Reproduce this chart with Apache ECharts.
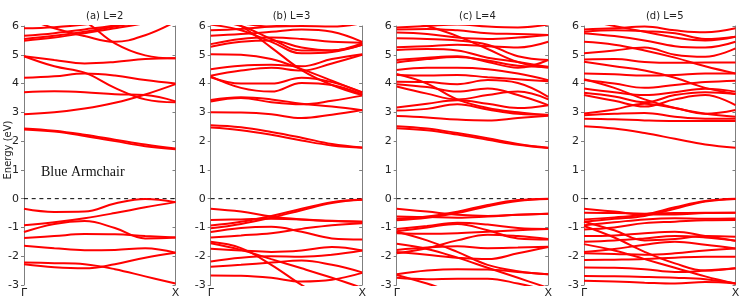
<!DOCTYPE html>
<html><head><meta charset="utf-8">
<script src="https://cdn.jsdelivr.net/npm/echarts@6/dist/echarts.min.js"></script>
<style>html,body{margin:0;padding:0;background:#fff}#c{width:747px;height:299px}</style>
</head><body><div id="c"></div>
<script>
// k-path samples (Γ -> X, normalized)
const xs = [0, 0.2, 0.4, 0.6, 0.8, 1];
const kLabels = ['Γ', 'X'];
const titles = ['(a) L=2', '(b) L=3', '(c) L=4', '(d) L=5'];
const yMin = -3, yMax = 6;
const fermiLevel = 0;

// Panel (a) L=2 bands (eV)
const bandsA = [
  [-0.35, -0.46, -0.45, -0.17, -0.01, -0.12],
  [-0.92, -0.82, -0.68, -0.5, -0.3, -0.12],
  [-1.16, -0.88, -0.78, -1.02, -1.38, -1.35],
  [-1.37, -1.3, -1.23, -1.24, -1.3, -1.35],
  [-1.64, -1.72, -1.79, -1.78, -1.72, -1.88],
  [-2.22, -2.24, -2.28, -2.45, -2.7, -2.95],
  [-2.28, -2.38, -2.42, -2.28, -2.05, -1.88],
  [2.44, 2.36, 2.22, 2.05, 1.88, 1.74],
  [2.4, 2.33, 2.18, 2.0, 1.82, 1.72],
  [2.93, 3.0, 3.13, 3.33, 3.62, 3.98],
  [3.7, 3.73, 3.7, 3.63, 3.6, 3.38],
  [4.2, 4.25, 4.35, 4.28, 4.12, 4.0],
  [4.95, 4.6, 4.38, 3.85, 3.45, 3.35],
  [4.95, 4.82, 4.7, 4.75, 4.85, 4.88],
  [5.92, 5.96, 6.05, 6.2, 6.3, 6.4],
  [5.66, 5.75, 5.88, 6.02, 6.2, 6.4],
  [5.55, 5.66, 5.8, 5.98, 6.15, 6.3],
  [5.49, 5.6, 5.75, 5.92, 6.1, 6.3],
  [6.3, 5.92, 5.65, 5.45, 5.68, 6.15],
  [6.8, 6.5, 6.15, 5.4, 4.98, 4.88]
];

// Panel (b) L=3 bands (eV)
const bandsB = [
  [-0.35, -0.45, -0.62, -0.72, -0.78, -0.8],
  [-0.74, -0.72, -0.7, -0.72, -0.77, -0.8],
  [-0.93, -0.8, -0.6, -0.35, -0.12, -0.03],
  [-1.03, -0.88, -0.66, -0.4, -0.15, -0.04],
  [-1.16, -1.02, -0.98, -1.15, -1.38, -1.42],
  [-1.35, -1.28, -1.2, -1.05, -0.92, -0.85],
  [-1.5, -1.72, -2.3, -3.0, -3.6, -4.0],
  [-1.55, -1.78, -2.1, -2.42, -2.75, -3.1],
  [-1.74, -1.8, -1.85, -1.8, -1.68, -1.8],
  [-2.18, -2.05, -2.0, -2.02, -1.95, -1.8],
  [-2.37, -2.3, -2.22, -2.15, -2.3, -2.56],
  [-2.67, -2.68, -2.75, -2.88, -2.82, -2.58],
  [2.55, 2.48, 2.32, 2.12, 1.9, 1.78],
  [2.47, 2.38, 2.22, 2.02, 1.85, 1.77],
  [3.0, 2.99, 2.93, 2.8, 2.92, 3.08],
  [3.43, 3.52, 3.45, 3.3, 3.2, 3.07],
  [3.38, 3.5, 3.35, 3.28, 3.4, 3.58],
  [4.25, 3.85, 3.72, 4.02, 3.95, 3.62],
  [4.22, 4.0, 4.0, 4.2, 4.05, 3.7],
  [4.5, 4.62, 4.65, 4.6, 4.85, 5.02],
  [4.27, 4.45, 4.55, 4.45, 4.7, 5.0],
  [5.02, 5.0, 4.85, 4.5, 4.1, 3.68],
  [6.5, 6.0, 5.25, 4.47, 3.95, 3.6],
  [6.05, 5.85, 5.45, 5.05, 5.1, 5.35],
  [6.2, 6.0, 5.55, 5.15, 5.15, 5.4],
  [5.66, 5.72, 5.8, 5.88, 5.8, 5.45],
  [5.37, 5.55, 5.6, 5.55, 5.45, 5.42],
  [5.28, 5.45, 5.5, 5.25, 5.15, 5.35],
  [5.85, 5.9, 5.98, 6.1, 6.2, 6.3],
  [6.3, 6.1, 5.98, 6.0, 5.98, 6.1]
];

// Panel (c) L=4 bands (eV)
const bandsC = [
  [-0.35, -0.45, -0.56, -0.6, -0.56, -0.52],
  [-0.62, -0.64, -0.66, -0.62, -0.56, -0.52],
  [-0.7, -0.62, -0.45, -0.22, -0.05, 0.0],
  [-0.75, -0.66, -0.5, -0.26, -0.08, -0.01],
  [-1.05, -0.95, -0.84, -0.9, -1.02, -1.05],
  [-1.13, -1.0, -0.88, -1.1, -1.38, -1.42],
  [-1.2, -1.22, -1.2, -1.15, -1.1, -1.05],
  [-1.9, -1.72, -1.45, -1.25, -1.3, -1.4],
  [-1.15, -1.45, -1.85, -2.3, -2.52, -2.63],
  [-1.57, -1.75, -2.05, -2.4, -2.75, -3.1],
  [-1.78, -1.7, -1.65, -1.72, -1.7, -1.67],
  [-1.85, -1.95, -2.05, -2.1, -1.9, -1.68],
  [-2.63, -2.5, -2.45, -2.46, -2.55, -2.63],
  [-2.75, -2.8, -2.78, -2.78, -2.95, -3.2],
  [-2.65, -2.95, -3.3, -3.6, -3.9, -4.2],
  [2.52, 2.44, 2.28, 2.1, 1.9, 1.77],
  [2.45, 2.38, 2.23, 2.05, 1.87, 1.76],
  [2.87, 2.82, 2.75, 2.72, 2.8, 2.88],
  [3.06, 3.12, 3.28, 3.1, 2.95, 2.92],
  [3.17, 3.3, 3.42, 3.3, 3.15, 3.25],
  [3.9, 3.65, 3.45, 3.6, 3.72, 3.45],
  [3.98, 3.88, 3.72, 3.83, 3.6, 3.25],
  [4.06, 4.05, 3.98, 4.12, 4.02, 3.54],
  [4.33, 4.0, 3.45, 3.15, 3.0, 2.9],
  [4.3, 4.28, 4.3, 4.22, 4.15, 4.08],
  [4.47, 4.55, 4.55, 4.5, 4.35, 4.12],
  [4.73, 4.85, 4.92, 4.8, 4.62, 4.58],
  [4.82, 4.9, 4.95, 4.75, 4.55, 4.82],
  [5.17, 5.2, 5.15, 4.9, 4.75, 4.58],
  [5.26, 5.3, 5.35, 5.3, 5.25, 5.45],
  [5.57, 5.55, 5.5, 5.35, 4.95, 4.82],
  [5.77, 5.72, 5.6, 5.55, 5.6, 5.69],
  [5.88, 5.9, 5.85, 5.75, 5.72, 5.69],
  [5.95, 6.0, 6.05, 5.98, 5.95, 6.05],
  [6.3, 6.0, 5.65, 5.2, 4.75, 4.55]
];

// Panel (d) L=5 bands (eV)
const bandsD = [
  [-0.35, -0.45, -0.55, -0.55, -0.5, -0.49],
  [-0.49, -0.5, -0.52, -0.5, -0.49, -0.49],
  [-0.72, -0.65, -0.55, -0.3, -0.08, 0.0],
  [-0.8, -0.7, -0.6, -0.35, -0.1, -0.01],
  [-0.92, -0.82, -0.72, -0.68, -0.7, -0.69],
  [-1.07, -1.0, -0.85, -0.8, -0.75, -0.74],
  [-0.8, -1.1, -1.45, -1.4, -1.3, -1.32],
  [-1.3, -1.28, -1.2, -1.15, -1.3, -1.46],
  [-1.5, -1.45, -1.38, -1.3, -1.35, -1.46],
  [-0.95, -1.35, -1.85, -2.25, -2.5, -2.42],
  [-1.58, -1.8, -2.1, -2.4, -2.7, -2.95],
  [-1.85, -1.75, -1.6, -1.5, -1.6, -1.73],
  [-1.9, -1.92, -1.95, -1.9, -1.8, -1.73],
  [-2.13, -2.12, -2.1, -2.05, -2.02, -2.02],
  [-2.39, -2.4, -2.45, -2.55, -2.5, -2.42],
  [-2.69, -2.7, -2.72, -2.75, -2.8, -2.95],
  [-2.85, -2.88, -2.92, -2.95, -2.9, -2.95],
  [2.52, 2.44, 2.28, 2.08, 1.88, 1.77],
  [2.78, 2.76, 2.72, 2.7, 2.7, 2.7],
  [2.9, 2.95, 2.98, 2.85, 2.78, 2.78],
  [2.96, 3.1, 3.3, 3.15, 2.95, 3.08],
  [3.6, 3.4, 3.2, 3.45, 3.6, 3.25],
  [3.68, 3.55, 3.35, 3.6, 3.7, 3.64],
  [3.83, 3.7, 3.6, 3.7, 3.82, 3.72],
  [4.15, 3.85, 3.45, 3.15, 2.95, 2.85],
  [4.12, 4.0, 3.85, 3.95, 4.05, 4.1],
  [4.35, 4.32, 4.28, 4.3, 4.35, 4.35],
  [4.76, 4.6, 4.45, 4.2, 3.85, 3.64],
  [4.84, 4.85, 4.75, 4.72, 4.73, 4.73],
  [5.05, 5.15, 5.25, 5.0, 4.93, 5.22],
  [5.45, 5.35, 5.15, 4.9, 4.6, 4.35],
  [5.75, 5.65, 5.5, 5.3, 5.25, 5.45],
  [5.8, 5.85, 5.82, 5.75, 5.55, 5.63],
  [5.88, 5.92, 5.98, 5.85, 5.78, 5.92],
  [6.2, 6.0, 5.8, 5.6, 5.5, 5.63]
];

const panels = [bandsA, bandsB, bandsC, bandsD];

const gridLefts = [24, 210.7, 396.7, 584];
const gridW = 151.5, gridTop = 26, gridH = 259;

const grids = [], xAxes = [], yAxes = [], series = [], titleOpts = [];
panels.forEach((bands, p) => {
  grids.push({left: gridLefts[p], top: gridTop, width: gridW, height: gridH, containLabel: false});
  xAxes.push({
    gridIndex: p, type: 'value', min: 0, max: 1, interval: 1,
    axisLine: {show: false}, axisTick: {show: false}, splitLine: {show: false},
    axisLabel: {show: true, showMinLabel: true, showMaxLabel: true, margin: 3,
      fontSize: 11, color: '#222', fontFamily: 'DejaVu Sans',
      formatter: v => (v === 0 ? kLabels[0] : kLabels[1])}
  });
  yAxes.push({
    gridIndex: p, type: 'value', min: yMin, max: yMax, interval: 1, position: 'left',
    axisLine: {show: true, lineStyle: {color: '#7f7f7f', width: 1}},
    axisTick: {show: true, length: 3, lineStyle: {color: '#7f7f7f'}},
    splitLine: {show: false},
    axisLabel: {margin: 5, fontSize: 11, color: '#222', fontFamily: 'DejaVu Sans'}
  });
  yAxes.push({
    gridIndex: p, type: 'value', min: yMin, max: yMax, interval: 1, position: 'right',
    axisLine: {show: true, lineStyle: {color: '#7f7f7f', width: 1}},
    axisTick: {show: true, inside: true, length: 3, lineStyle: {color: '#7f7f7f'}},
    splitLine: {show: false}, axisLabel: {show: false}
  });
  titleOpts.push({
    text: titles[p], left: gridLefts[p] + gridW / 2, top: 6, textAlign: 'center',
    textStyle: {fontSize: 10, fontWeight: 'normal', color: '#222', fontFamily: 'DejaVu Sans'}
  });
  series.push({
    type: 'line', xAxisIndex: p, yAxisIndex: p * 2, silent: true, symbol: 'none',
    data: [[0, fermiLevel], [1, fermiLevel]],
    lineStyle: {color: '#000', width: 1, type: [4, 3.7]}, z: 1
  });
  bands.forEach(b => {
    series.push({
      type: 'line', xAxisIndex: p, yAxisIndex: p * 2, silent: true, symbol: 'none',
      smooth: 0.4, clip: true,
      data: xs.map((x, i) => [x, b[i]]),
      lineStyle: {color: '#ff0000', width: 2}, z: 2
    });
  });
});

const chart = echarts.init(document.getElementById('c'), null, {renderer: 'canvas'});
chart.setOption({
  animation: false,
  backgroundColor: '#fff',
  title: titleOpts,
  grid: grids, xAxis: xAxes, yAxis: yAxes, series: series,
  graphic: [
    {type: 'text', x: 8, y: 150, rotation: Math.PI / 2,
      style: {text: 'Energy (eV)', fill: '#222', font: '10px "DejaVu Sans"', align: 'center', verticalAlign: 'middle'}},
    {type: 'text', x: 41, y: 172,
      style: {text: 'Blue Armchair', fill: '#111', font: '14px "Liberation Serif"', align: 'left', verticalAlign: 'middle'}}
  ]
});
</script></body></html>
